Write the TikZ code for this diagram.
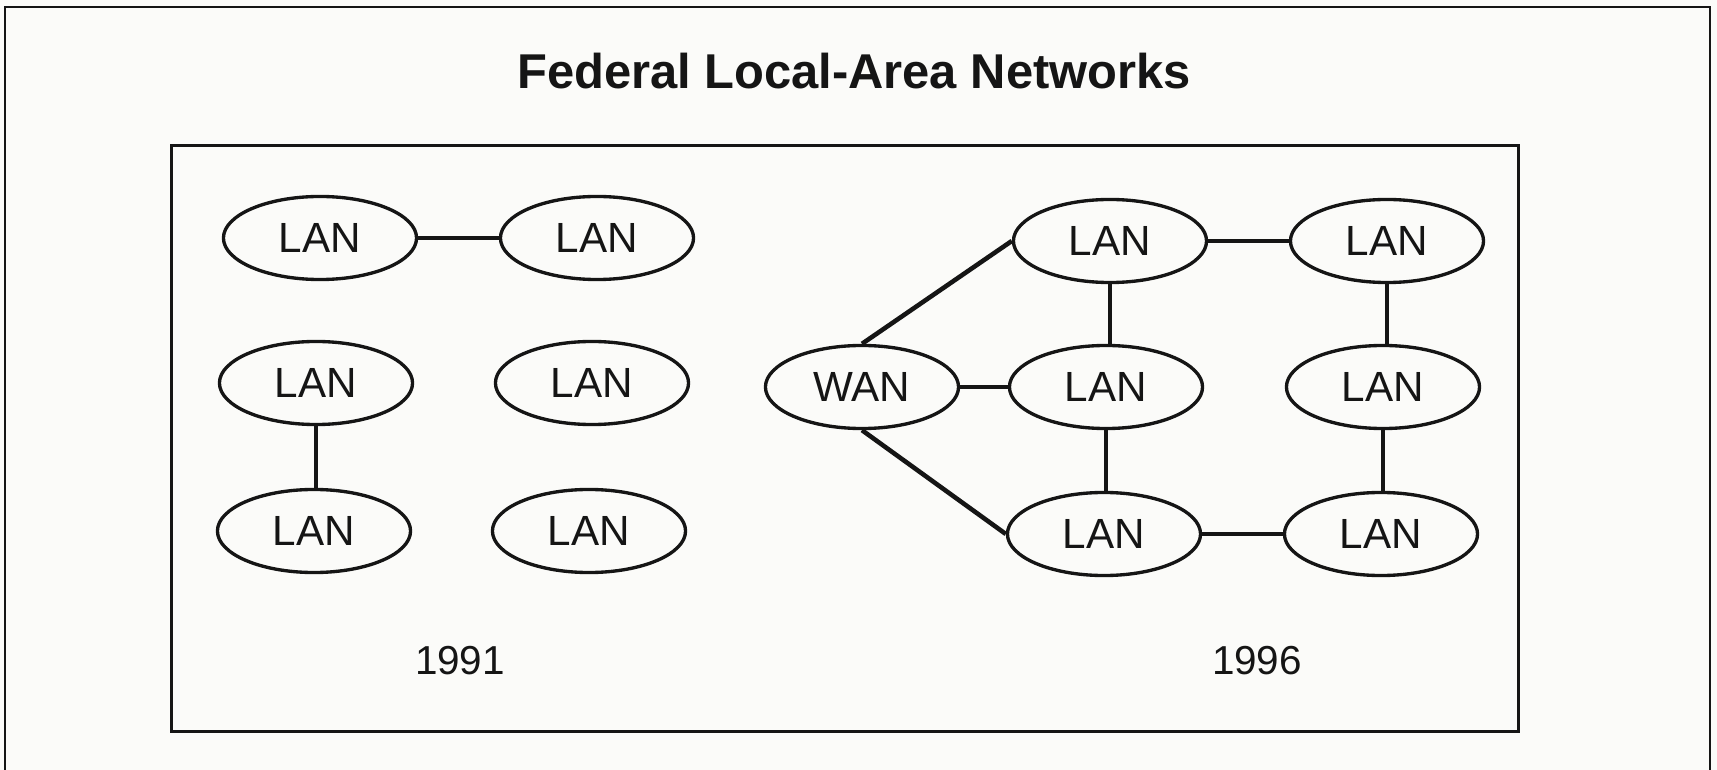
\documentclass[tikz,border=0pt]{standalone}
\usepackage{fontspec}
\setmainfont{Liberation Sans}
\usetikzlibrary{shapes.geometric}
\definecolor{paper}{HTML}{FBFBF9}
\definecolor{ink}{HTML}{151515}
\begin{document}
\begin{tikzpicture}[x=0.01cm,y=-0.01cm,
  net/.style={ellipse,draw=ink,line width=0.95pt,minimum width=1.93cm,minimum height=0.83cm,inner sep=0pt,font=\fontsize{12}{14}\selectfont,text=ink},
  link/.style={draw=ink,line width=1pt},
  wlink/.style={draw=ink,line width=1.3pt},
  frame/.style={draw=ink,line width=0.9pt},
  yearlbl/.style={font=\fontsize{11.5}{13}\selectfont,text=ink}]
\fill[paper] (0,0) rectangle (1717,770);
\useasboundingbox (0,0) rectangle (1717,770);
% outer frame (open at bottom)
\coordinate (ob1) at (5,770);
\coordinate (ot1) at (5,7);
\coordinate (ot2) at (1710,7);
\coordinate (ob2) at (1710,770);
\draw[draw=ink,line width=0.6pt] (ob1) -- (ot1) -- (ot2) -- (ob2);
% title
\node[font=\bfseries\fontsize{13.9}{16}\selectfont,text=ink] (title) at (854,71) {Federal Local-Area Networks};
% inner box
\node[frame,minimum width=13.46cm,minimum height=5.85cm,inner sep=0pt] (box) at (845,438.5) {};
% 1991
\node[net] (a1) at (320,238) {LAN};
\node[net] (a2) at (597,238) {LAN};
\node[net] (a3) at (316,383) {LAN};
\node[net] (a4) at (592,383) {LAN};
\node[net] (a5) at (314,531) {LAN};
\node[net] (a6) at (589,531) {LAN};
\draw[link] (a1) -- (a2);
\draw[link] (a3.south) -- (a3.south |- a5.north);
\node[yearlbl] (y1) at (460,661) {1991};
% 1996
\node[net] (wan) at (862,387) {WAN};
\node[net] (b1) at (1110,241) {LAN};
\node[net] (b2) at (1106,387) {LAN};
\node[net] (b3) at (1104,534) {LAN};
\node[net] (c1) at (1387,241) {LAN};
\node[net] (c2) at (1383,387) {LAN};
\node[net] (c3) at (1381,534) {LAN};
\draw[wlink] (wan.north) -- (b1.west);
\draw[wlink] (wan.south) -- (b3.west);
\draw[link] (wan) -- (b2);
\draw[link] (b1) -- (c1);
\draw[link] (b3) -- (c3);
\draw[link] (b1.south) -- (b1.south |- b2.north);
\draw[link] (b2.south) -- (b2.south |- b3.north);
\draw[link] (c1.south) -- (c1.south |- c2.north);
\draw[link] (c2.south) -- (c2.south |- c3.north);
\node[yearlbl] (y2) at (1257,661) {1996};
\end{tikzpicture}
\end{document}
